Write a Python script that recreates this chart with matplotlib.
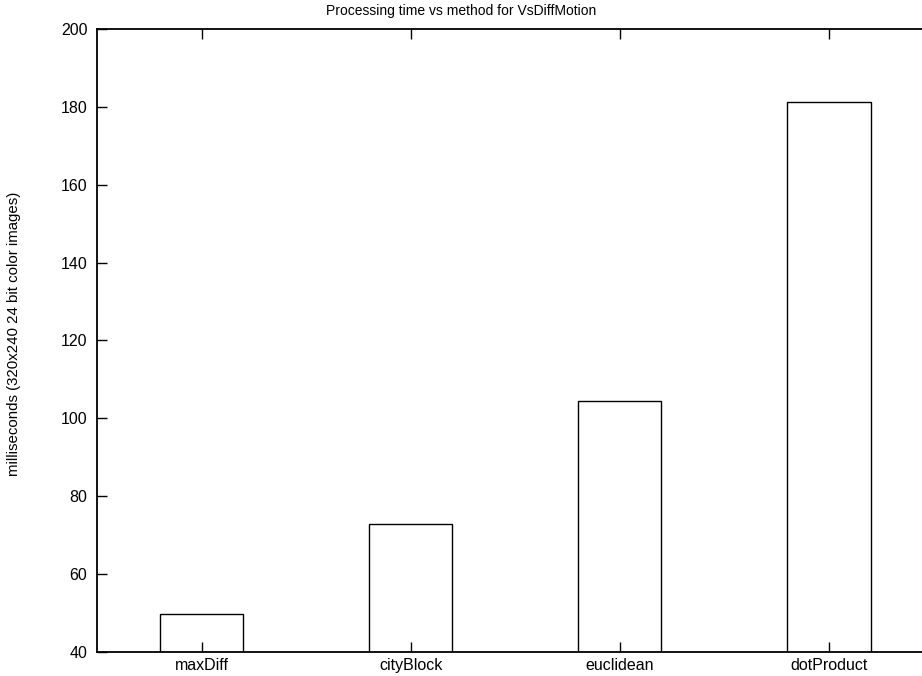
import matplotlib
matplotlib.use("Agg")
import matplotlib.pyplot as plt
import numpy as np

METHODS = ["maxDiff", "cityBlock", "euclidean", "dotProduct"]
MILLIS = [49.7, 73.0, 104.5, 181.2]
YTICKS = [40, 60, 80, 100, 120, 140, 160, 180, 200]

plt.rcParams["font.family"] = ["Liberation Sans", "DejaVu Sans"]

W, H = 922, 676
fig = plt.figure(figsize=(W / 100, H / 100), dpi=100)
ax = fig.add_axes([97 / W, (H - 652) / H, (W - 97) / W, (652 - 29) / H])

x = np.arange(len(METHODS))
ax.bar(x, MILLIS, width=0.4, bottom=0, facecolor="white", edgecolor="black", lw=1.0)

ax.set_xlim(-0.5, 3.446)
ax.set_ylim(40, 200)
ax.set_xticks(x)
ax.set_xticklabels(METHODS, fontsize=11.5)
ax.set_yticks(YTICKS)
ax.set_yticklabels([str(t) for t in YTICKS], fontsize=11.5)
ax.tick_params(axis="both", direction="in", length=7, width=1, top=True)
ax.tick_params(axis="y", pad=7)
ax.tick_params(axis="x", pad=4)
ax.spines["right"].set_visible(False)
for s in ("left", "top", "bottom"):
    ax.spines[s].set_linewidth(1.3)

fig.text(14 / W, 1 - 334 / H, "milliseconds (320x240 24 bit color images)",
         rotation=90, ha="center", va="center", fontsize=10.8)
fig.text(0.5, 1 - 11 / H, "Processing time vs method for VsDiffMotion",
         ha="center", va="center", fontsize=10)

fig.savefig("out.png", dpi=100)
